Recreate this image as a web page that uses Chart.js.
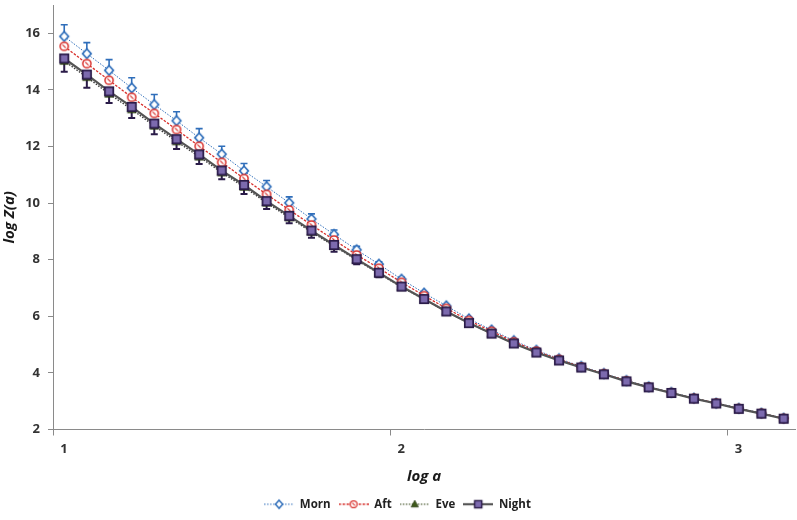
<!DOCTYPE html>
<html><head><meta charset="utf-8">
<script src="https://cdn.jsdelivr.net/npm/chart.js@4.4.1/dist/chart.umd.min.js"></script>
<style>html,body{margin:0;padding:0;background:#fff;}#wrap{width:797px;height:520px;}</style>
</head><body><div id="wrap"><canvas id="c" width="797" height="520"></canvas></div>
<script>
// ---- data ----
const logA = [1.000,1.067,1.133,1.200,1.267,1.333,1.400,1.467,1.533,1.600,1.667,1.733,1.800,1.867,1.933,2.000,2.067,2.133,2.200,2.267,2.333,2.400,2.467,2.533,2.600,2.667,2.733,2.800,2.867,2.933,3.000,3.067,3.133];
const morn  = [15.89,15.28,14.69,14.07,13.48,12.91,12.31,11.73,11.14,10.58,10.01,9.44,8.89,8.35,7.84,7.31,6.82,6.37,5.91,5.52,5.14,4.80,4.50,4.23,3.98,3.73,3.51,3.31,3.11,2.93,2.75,2.58,2.40];
const aft   = [15.54,14.93,14.34,13.74,13.17,12.60,12.01,11.44,10.87,10.31,9.76,9.23,8.70,8.17,7.70,7.20,6.73,6.28,5.85,5.47,5.10,4.77,4.48,4.21,3.97,3.72,3.50,3.30,3.10,2.93,2.74,2.57,2.39];
const eve   = [15.02,14.45,13.86,13.31,12.73,12.18,11.64,11.08,10.57,10.01,9.49,8.98,8.48,7.99,7.51,7.03,6.60,6.17,5.76,5.39,5.05,4.73,4.45,4.20,3.96,3.71,3.50,3.30,3.10,2.93,2.74,2.57,2.39];
const night = [15.11,14.54,13.95,13.40,12.81,12.26,11.72,11.15,10.64,10.07,9.55,9.03,8.52,8.02,7.54,7.05,6.61,6.17,5.76,5.39,5.04,4.72,4.44,4.19,3.95,3.70,3.49,3.29,3.09,2.92,2.73,2.56,2.38];
const mornErrPlus   = [0.41,0.39,0.38,0.36,0.36,0.32,0.32,0.28,0.26,0.22,0.21,0.18,0.16,0.12,0.09,0.07,0.05,0.04,0.03,0.02,0.02,0.01,0.01,0.01,0.01,0.01,0,0,0,0,0,0,0];
const nightErrMinus = [0.47,0.46,0.41,0.39,0.38,0.35,0.34,0.31,0.32,0.28,0.26,0.25,0.24,0.18,0.16,0.12,0.09,0.07,0.05,0.04,0.03,0.02,0.01,0.01,0.01,0.01,0,0,0,0,0,0,0];
const seriesNames = ['Morn','Aft','Eve','Night'];
const xTickValues = [0.96667, 1.96667, 2.96667]; // category boundaries carrying the labels
const xTickLabels = ['1','2','3'];
const yTickValues = [2,4,6,8,10,12,14,16];

// ---- styles ----
const C = {
  morn:'#2F6EBA', aft:'#D8302C', eveFill:'#3E5A1A', eveLine:'#3a3a3a',
  nightFill:'#7C6AAE', nightEdge:'#2A1B48', nightLine:'#555555', axis:'#8a8a8a', text:'#333333'
};
function drawMarker(ctx, kind, x, y){
  ctx.save();
  if(kind==='Morn'){
    ctx.beginPath(); ctx.moveTo(x,y-4.8); ctx.lineTo(x+4.3,y); ctx.lineTo(x,y+4.8); ctx.lineTo(x-4.3,y); ctx.closePath();
    ctx.fillStyle='#fff'; ctx.fill(); ctx.strokeStyle=C.morn; ctx.lineWidth=1.7; ctx.stroke();
  } else if(kind==='Aft'){
    ctx.beginPath(); ctx.arc(x,y,4.1,0,Math.PI*2); ctx.fillStyle='#fff'; ctx.fill();
    ctx.strokeStyle=C.aft; ctx.lineWidth=1.5; ctx.stroke();
    ctx.beginPath(); ctx.moveTo(x-1.6,y-1.6); ctx.lineTo(x+1.6,y+1.6); ctx.lineWidth=1.2; ctx.stroke();
  } else if(kind==='Eve'){
    ctx.beginPath(); ctx.moveTo(x,y-4.6); ctx.lineTo(x+4.3,y+3.2); ctx.lineTo(x-4.3,y+3.2); ctx.closePath();
    ctx.fillStyle=C.eveFill; ctx.fill(); ctx.strokeStyle='#22330e'; ctx.lineWidth=0.8; ctx.stroke();
  } else {
    ctx.fillStyle=C.nightFill; ctx.fillRect(x-4.2,y-4.2,8.4,8.4);
    ctx.strokeStyle=C.nightEdge; ctx.lineWidth=1.7; ctx.strokeRect(x-4.2,y-4.2,8.4,8.4);
  }
  ctx.restore();
}
function markerImage(kind){
  const cv=document.createElement('canvas'); cv.width=14; cv.height=14;
  drawMarker(cv.getContext('2d'), kind, 7, 7); return cv;
}
const lineStyles = {
  Morn:{color:C.morn, width:1, dash:[1.5,1.5]},
  Aft:{color:C.aft, width:1.3, dash:[2.5,1.5]},
  Eve:{color:C.eveLine, width:1.4, dash:[1.5,1.5]},
  Night:{color:C.nightLine, width:2.2, dash:[]}
};
function legendImage(kind){
  const cv=document.createElement('canvas'); cv.width=30; cv.height=12;
  const ctx=cv.getContext('2d'); const s=lineStyles[kind];
  ctx.strokeStyle = kind==='Eve' ? '#6b7a55' : s.color; ctx.lineWidth=s.width; ctx.setLineDash(s.dash);
  ctx.beginPath(); ctx.moveTo(0,6); ctx.lineTo(30,6); ctx.stroke(); ctx.setLineDash([]);
  ctx.save(); ctx.translate(15,6); ctx.scale(0.85,0.85); drawMarker(ctx, kind, 0, 0); ctx.restore();
  return cv;
}

const seriesValues = [morn, aft, eve, night];
const datasets = seriesNames.map((name,i)=>({
  label:name,
  data: logA.map((x,j)=>({x:x, y:seriesValues[i][j]})),
  borderColor: lineStyles[name].color,
  borderWidth: lineStyles[name].width,
  borderDash: lineStyles[name].dash,
  pointStyle: markerImage(name),
  pointRadius: 5,
  tension: 0,
  fill:false,
  order: 3-i
}));

const errorBars = {
  id:'errorBars',
  beforeDatasetsDraw(chart){
    const ctx=chart.ctx, xs=chart.scales.x, ys=chart.scales.y;
    const draw=(vals, errs, sign, color, lw)=>{
      ctx.save(); ctx.strokeStyle=color; ctx.lineWidth=lw;
      vals.forEach((v,j)=>{
        if(!errs[j]) return;
        const px=xs.getPixelForValue(logA[j]);
        const p0=ys.getPixelForValue(v), p1=ys.getPixelForValue(v+sign*errs[j]);
        ctx.beginPath(); ctx.moveTo(px,p0); ctx.lineTo(px,p1);
        ctx.moveTo(px-3.5,p1); ctx.lineTo(px+3.5,p1); ctx.stroke();
      });
      ctx.restore();
    };
    draw(morn, mornErrPlus, 1, C.morn, 1.6);
    draw(night, nightErrMinus, -1, C.nightEdge, 2);
  }
};

const tickFont = {family:'"Open Sans", "Liberation Sans", sans-serif', size:13, weight:'bold'};
const titleFont = {family:'"Open Sans", "Liberation Sans", sans-serif', size:15, weight:'bold', style:'italic'};

new Chart(document.getElementById('c'), {
  type:'line',
  data:{datasets},
  plugins:[errorBars],
  options:{
    responsive:false, animation:false, devicePixelRatio:1,
    layout:{autoPadding:false, padding:{top:5,right:2,left:0,bottom:0}},
    plugins:{
      tooltip:{enabled:false},
      legend:{
        position:'bottom',
        labels:{
          usePointStyle:true, pointStyleWidth:30, padding:8, color:'#222',
          font:{family:'"Open Sans", "Liberation Sans", sans-serif', size:11.5, weight:'bold'},
          generateLabels:(chart)=>chart.data.datasets.map((ds,i)=>({
            text:ds.label, pointStyle:legendImage(ds.label), fillStyle:'transparent',
            strokeStyle:'transparent', lineWidth:0, hidden:false, datasetIndex:i, fontColor:'#222'
          }))
        }
      }
    },
    scales:{
      x:{
        type:'linear', min:0.96667, max:3.16667,
        afterBuildTicks:(s)=>{ s.ticks = xTickValues.map(v=>({value:v})); },
        afterFit:(s)=>{ s.height=61; s.paddingLeft=0; s.paddingRight=0; },
        grid:{drawOnChartArea:false, drawTicks:true, tickLength:6, tickColor:C.axis, color:C.axis},
        border:{color:C.axis, width:1},
        ticks:{labelOffset:11, padding:6, font:tickFont, color:C.text, maxRotation:0,
               callback:(v,i)=>xTickLabels[i]},
        title:{display:true, text:'log a', font:titleFont, color:'#1a1a1a', padding:{top:6,bottom:5}}
      },
      y:{
        min:2, max:17,
        afterBuildTicks:(s)=>{ s.ticks = yTickValues.map(v=>({value:v})); },
        afterFit:(s)=>{ s.width=53; s.paddingTop=0; s.paddingBottom=0; },
        grid:{drawOnChartArea:false, drawTicks:true, tickLength:5, tickColor:C.axis, color:C.axis},
        border:{color:C.axis, width:1},
        ticks:{padding:8, font:tickFont, color:C.text},
        title:{display:true, text:'log Z(a)', font:titleFont, color:'#1a1a1a', padding:{top:1,bottom:4}}
      }
    }
  }
});
</script></body></html>
